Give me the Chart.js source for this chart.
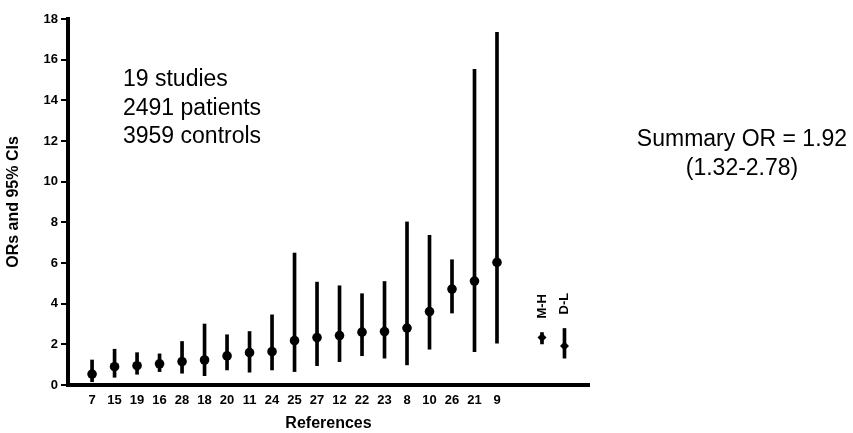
<!DOCTYPE html>
<html>
<head>
<meta charset="utf-8">
<script src="https://cdn.jsdelivr.net/npm/chart.js@4"></script>
<style>
  body { margin: 0; background: #fff; }
  #chart { display: block; }
</style>
</head>
<body>
<canvas id="chart" width="853" height="433"></canvas>
<script>
// study reference numbers, ordered by OR
const refs = ['7', '15', '19', '16', '28', '18', '20', '11', '24', '25', '27', '12', '22', '23', '8', '10', '26', '21', '9'];
const orValues = [0.54, 0.90, 0.95, 1.04, 1.15, 1.23, 1.43, 1.59, 1.64, 2.18, 2.33, 2.43, 2.60, 2.63, 2.80, 3.61, 4.72, 5.11, 6.03];
const ciLower = [0.16, 0.38, 0.53, 0.66, 0.58, 0.46, 0.74, 0.63, 0.74, 0.66, 0.95, 1.15, 1.44, 1.32, 0.99, 1.76, 3.54, 1.64, 2.06];
const ciUpper = [1.23, 1.76, 1.59, 1.53, 2.14, 3.00, 2.47, 2.63, 3.45, 6.49, 5.06, 4.88, 4.49, 5.09, 8.02, 7.36, 6.16, 15.53, 17.34];

// pooled estimates (Mantel-Haenszel, DerSimonian-Laird)
const summaryNames = ['M-H', 'D-L'];
const summaryOR = [2.33, 1.92];
const summaryLower = [2.02, 1.32];
const summaryUpper = [2.58, 2.78];

const yTicks = [0, 2, 4, 6, 8, 10, 12, 14, 16, 18];
const noteLines = ['19 studies', '2491 patients', '3959 controls'];
const summaryText = ['Summary OR = 1.92', '(1.32-2.78)'];

// summaries sit two slots after the last study
const summaryPos = [refs.length + 1, refs.length + 2];

const boldFont = { family: 'Arial, "Liberation Sans", sans-serif', weight: 'bold', size: 13 };

const textPlugin = {
    id: 'notes',
    afterDraw(chart) {
        const ctx = chart.ctx;
        const x = chart.scales.x, y = chart.scales.y;
        ctx.save();
        ctx.fillStyle = '#000';
        ctx.font = '23px Arial, "Liberation Sans", sans-serif';
        ctx.textBaseline = 'middle';
        ctx.textAlign = 'left';
        noteLines.forEach((t, i) => ctx.fillText(t, 123, 80 + i * 28.5));
        ctx.textAlign = 'center';
        summaryText.forEach((t, i) => ctx.fillText(t, 742, 140 + i * 29));

        // vertical M-H / D-L labels above the pooled estimates
        ctx.font = 'bold 13px Arial, "Liberation Sans", sans-serif';
        ctx.textAlign = 'left';
        summaryNames.forEach((name, i) => {
            const px = x.getPixelForValue(summaryPos[i]);
            const py = y.getPixelForValue(summaryUpper[i]) - 14;
            ctx.save();
            ctx.translate(px, py);
            ctx.rotate(-Math.PI / 2);
            ctx.fillText(name, 0, 0);
            ctx.restore();
        });
        ctx.restore();
    }
};

new Chart(document.getElementById('chart'), {
    type: 'bar',
    data: {
        datasets: [
            {
                type: 'bar',
                data: refs.map((r, i) => ({ x: i, y: [ciLower[i], ciUpper[i]] }))
                    .concat(summaryPos.map((p, i) => ({ x: p, y: [summaryLower[i], summaryUpper[i]] }))),
                backgroundColor: '#000',
                barThickness: 3,
                borderWidth: 0
            },
            {
                type: 'scatter',
                data: refs.map((r, i) => ({ x: i, y: orValues[i] })),
                pointRadius: 4.8,
                pointBackgroundColor: '#000',
                pointBorderWidth: 0
            },
            {
                type: 'scatter',
                data: summaryPos.map((p, i) => ({ x: p, y: summaryOR[i] })),
                pointStyle: 'rectRot',
                pointRadius: 4.5,
                pointBackgroundColor: '#000',
                pointBorderWidth: 0
            }
        ]
    },
    options: {
        responsive: false,
        animation: false,
        layout: { padding: { left: 0, right: 264, top: 19, bottom: 0 } },
        plugins: { legend: { display: false }, tooltip: { enabled: false } },
        scales: {
            x: {
                type: 'linear',
                min: -1.07,
                max: 22.09,
                offset: false,
                afterBuildTicks: s => { s.ticks = refs.map((r, i) => ({ value: i })); },
                afterFit: s => { s.height = 48; },
                grid: { display: true, drawOnChartArea: false, drawTicks: false },
                border: { display: true, color: '#000', width: 4 },
                ticks: {
                    autoSkip: false, maxRotation: 0, padding: 8, color: '#000', font: boldFont,
                    callback: v => refs[v] ?? ''
                },
                title: {
                    display: true, text: 'References', color: '#000',
                    font: { family: boldFont.family, weight: 'bold', size: 16 },
                    padding: { top: 4, bottom: 0 }
                }
            },
            y: {
                min: 0,
                max: 18,
                afterBuildTicks: s => { s.ticks = yTicks.map(v => ({ value: v })); },
                afterFit: s => { s.width = 68; },
                grid: { drawOnChartArea: false, drawTicks: true, tickLength: 7, color: '#000', lineWidth: 2 },
                border: { display: true, color: '#000', width: 4 },
                ticks: { padding: 3, color: '#000', font: boldFont },
                title: {
                    display: true, text: 'ORs and 95% CIs', color: '#000',
                    font: { family: boldFont.family, weight: 'bold', size: 16 },
                    padding: { top: 4, bottom: 4 }
                }
            }
        }
    },
    plugins: [textPlugin]
});
</script>
</body>
</html>
